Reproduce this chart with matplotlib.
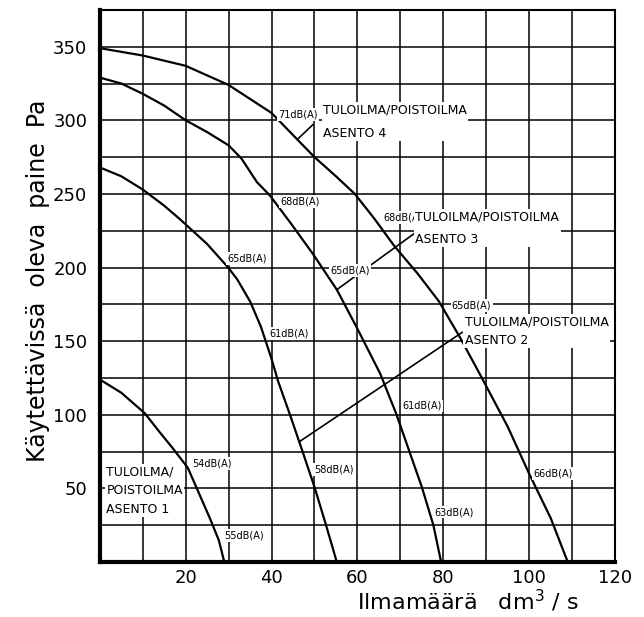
import matplotlib.pyplot as plt
from matplotlib.ticker import MultipleLocator

# fan curves, x = air flow dm3/s, y = available pressure Pa
asento1_x = [0, 5, 10.5, 14, 16.8, 20.5, 22.6, 25.6, 27.7, 29]
asento1_y = [124, 115, 101, 88, 78, 64, 50, 30, 15, 0]

asento2_x = [0, 5, 10, 15, 18.6, 25, 29.9, 32, 35, 37.5, 40, 41.5, 44.3, 47, 50, 52.6, 55.2]
asento2_y = [268, 262, 253, 242, 233, 216, 200, 192, 177, 160, 138, 123, 100, 77, 51, 26, 0]

asento3_x = [0, 5, 10, 15, 20, 25, 30, 33, 36.6, 39.6, 44.5, 49.7, 55.2, 59.9, 65.3, 69, 72, 75, 77.7, 79.5]
asento3_y = [329, 325, 318, 310, 300, 292, 283, 274, 258, 249, 230, 209, 185, 159, 128, 101, 76, 51, 25, 0]

asento4_x = [0, 10, 20, 30, 40, 46, 50, 55, 59.4, 64, 68.5, 74, 79, 84, 89, 95, 100, 105, 109]
asento4_y = [349, 344, 337, 324, 305, 287, 275, 262, 250, 233, 215, 196, 177, 152, 125, 92, 60, 30, 0]

# sound level labels (x, y, text)
db_x = [21.4, 29.0, 29.6, 39.6, 50.0, 42.0, 53.6, 70.4, 78.0, 41.5, 66.0, 82.0, 101.0]
db_y = [67, 18, 206, 155, 63, 245, 198, 106, 34, 304, 234, 174, 60]
db_text = ["54dB(A)", "55dB(A)", "65dB(A)", "61dB(A)", "58dB(A)", "68dB(A)",
           "65dB(A)", "61dB(A)", "63dB(A)", "71dB(A)", "68dB(A)", "65dB(A)", "66dB(A)"]

# position labels and leader lines
pos_x = [1.5, 85.0, 73.5, 52.0]
pos_y = [48.5, 157, 227, 299]
pos_text = ["TULOILMA/\nPOISTOILMA\nASENTO 1",
            "TULOILMA/POISTOILMA\nASENTO 2",
            "TULOILMA/POISTOILMA\nASENTO 3",
            "TULOILMA/POISTOILMA\nASENTO 4"]
pos_spacing = [1.55, 1.55, 1.95, 2.05]
leader_x = [[46.6, 84.4], [55.2, 74.6], [46.0, 49.6]]
leader_y = [[82, 156], [185, 226], [287, 297]]

fig = plt.figure(figsize=(6.44, 6.17), dpi=100)
ax = fig.add_axes([0.155, 0.089, 0.80, 0.895])

for xs, ys in [(asento1_x, asento1_y), (asento2_x, asento2_y),
               (asento3_x, asento3_y), (asento4_x, asento4_y)]:
    ax.plot(xs, ys, color="black", lw=1.6, zorder=3)

for xs, ys in zip(leader_x, leader_y):
    ax.plot(xs, ys, color="black", lw=1.2, zorder=3)

box = dict(facecolor="white", edgecolor="none", pad=1.0)
for x, y, t in zip(db_x, db_y, db_text):
    ax.text(x, y, t, fontsize=7, ha="left", va="center", bbox=box, zorder=4)

for x, y, t, ls in zip(pos_x, pos_y, pos_text, pos_spacing):
    ax.text(x, y, t, fontsize=9, ha="left", va="center", linespacing=ls,
            bbox=box, zorder=4)

ax.set_xlim(0, 120)
ax.set_ylim(0, 375)
ax.xaxis.set_minor_locator(MultipleLocator(10))
ax.yaxis.set_minor_locator(MultipleLocator(25))
ax.set_xticks([20, 40, 60, 80, 100, 120])
ax.set_yticks([50, 100, 150, 200, 250, 300, 350])
ax.grid(which="both", color="black", lw=1.1, zorder=1)
ax.set_axisbelow(True)
ax.tick_params(which="both", length=0, labelsize=13)
ax.tick_params(axis="x", pad=5)
ax.tick_params(axis="y", pad=9)

ax.spines["left"].set_linewidth(3)
ax.spines["bottom"].set_linewidth(3)
ax.spines["top"].set_linewidth(1.5)
ax.spines["right"].set_linewidth(1.5)

ax.set_xlabel("Ilmamäärä   dm$^3$ / s", fontsize=16, va="center")
ax.xaxis.set_label_coords(0.715, -0.07)
ax.set_ylabel("Käytettävissä  oleva  paine  Pa", fontsize=17, va="center")
ax.yaxis.set_label_coords(-0.12, 0.51)

fig.savefig("out.png", dpi=100)
